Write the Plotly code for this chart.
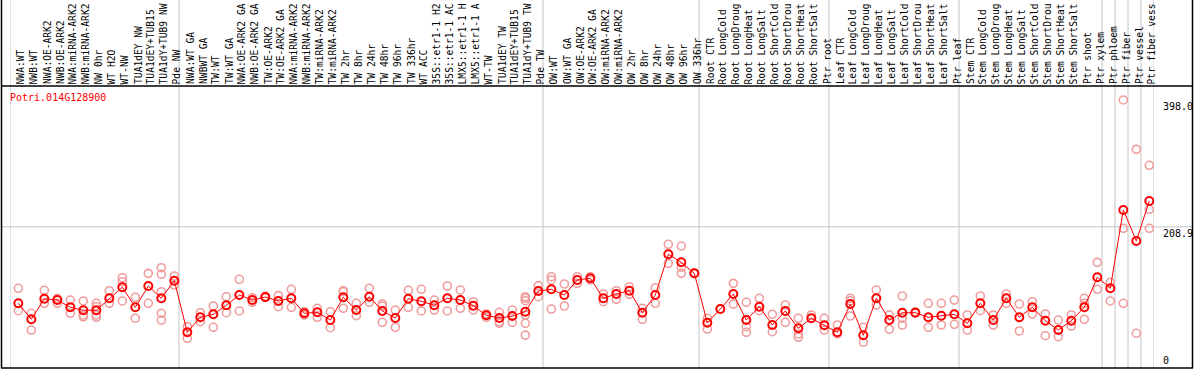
import plotly.graph_objects as go

W, H = 1194, 370

gene = "Potri.014G128900"

labels = [
    "NWA:WT", "NWB:WT", "NWA:OE-ARK2", "NWB:OE-ARK2", "NWA:miRNA-ARK2", "NWB:miRNA-ARK2",
    "NW 0hr", "WT H2O", "WT-NW", "TUA1dEY NW", "TUA1dEY+TUB15", "TUA1dY+TUB9 NW", "Pde NW",
    "NWA:WT GA", "NWBWT GA", "TW:WT", "TW:WT GA", "NWA:OE-ARK2 GA", "NWB:OE-ARK2 GA",
    "TW:OE-ARK2", "TW:OE-ARK2 GA", "NWA:miRNA-ARK2", "NWB:miRNA-ARK2", "TW:miRNA-ARK2",
    "TW:miRNA-ARK2", "TW 2hr", "TW 8hr", "TW 24hr", "TW 48hr", "TW 96hr", "TW 336hr",
    "WT ACC", "35S::etr1-1 H2", "35S::etr1-1 AC", "LMX5::etr1-1 H", "LMX5::etr1-1 A",
    "WT-TW", "TUA1dEY TW", "TUA1dEY+TUB15", "TUA1dY+TUB9 TW", "Pde TW",
    "OW:WT", "OW:WT GA", "OW:OE-ARK2", "OW:OE-ARK2 GA", "OW:miRNA-ARK2", "OW:miRNA-ARK2",
    "OW 2hr", "OW 8hr", "OW 24hr", "OW 48hr", "OW 96hr", "OW 336hr",
    "Root CTR", "Root LongCold", "Root LongDroug", "Root LongHeat", "Root LongSalt",
    "Root ShortCold", "Root ShortDrou", "Root ShortHeat", "Root ShortSalt", "Ptr root",
    "Leaf CTR", "Leaf LongCold", "Leaf LongDroug", "Leaf LongHeat", "Leaf LongSalt",
    "Leaf ShortCold", "Leaf ShortDrou", "Leaf ShortHeat", "Leaf ShortSalt", "Ptr leaf",
    "Stem CTR", "Stem LongCold", "Stem LongDroug", "Stem LongHeat", "Stem LongSalt",
    "Stem ShortCold", "Stem ShortDrou", "Stem ShortHeat", "Stem ShortSalt", "Ptr shoot",
    "Ptr xylem", "Ptr phloem", "Ptr fiber", "Ptr vessel", "Ptr fiber vess",
]

# group boundaries (column indices)
group_bounds = [0, 13, 41, 53, 63, 73, 84, 85, 86, 87, 88]

means = [
    94.9, 71.1, 101.8, 99.8, 89.0, 84.5, 84.5, 102.4, 118.8, 89.0, 120.7, 102.4, 128.6,
    51.7, 74.1, 78.5, 92.0, 107.3, 99.8, 104.3, 98.4, 102.4, 80.0, 81.5, 70.0, 103.9,
    84.9, 104.8, 83.5, 73.0, 101.8, 97.9, 92.0, 102.4, 99.8, 91.4, 77.0, 73.0, 76.0,
    82.4, 113.3,
    115.8, 107.3, 129.7, 132.2, 102.4, 108.8, 113.7, 80.9, 107.3, 168.0, 156.0, 139.6,
    66.0, 86.4, 108.8, 70.0, 89.9, 62.6, 83.5, 57.7, 72.6, 62.1,
    51.7, 93.9, 47.2, 102.4, 70.0, 80.9, 80.9, 74.1, 76.5, 78.5,
    65.1, 94.9, 70.0, 102.4, 74.1, 89.0, 69.0, 55.1, 69.0, 89.0, 133.7,
    117.3, 234.0, 187.8, 247.4,
]

replicates = [
    [117.3, 83.9], [80.0, 55.1], [114.3, 94.9], [102.4, 94.9], [99.8, 80.0],
    [98.4, 77.5, 74.9], [94.9, 89.9, 77.5, 74.1], [113.7, 94.9], [133.1, 127.1, 98.4],
    [103.9, 72.6], [139.6, 94.9], [148.0, 138.2, 112.2, 80.0, 70.0], [135.6, 122.2],
    [60.1, 42.8], [80.9, 67.5], [90.9, 59.2], [104.8, 80.9], [130.7, 83.5], [103.3, 96.4],
    [105.4, 103.3], [106.3, 89.9], [115.8, 89.0], [82.4, 77.5], [87.5, 74.1], [82.4, 58.6],
    [113.7, 112.2, 87.5], [94.9, 76.5], [117.3, 96.4], [93.9, 90.9, 66.6], [84.9, 59.2],
    [114.3, 89.0], [115.8, 83.5], [99.8, 84.9], [120.7, 83.5], [114.8, 87.5], [97.3, 84.9],
    [79.0, 74.1], [81.5, 67.5, 65.1], [84.9, 66.6],
    [104.8, 102.4, 98.8, 77.5, 65.1, 47.5], [121.2, 104.8],
    [134.6, 129.7, 86.4], [123.7, 90.9], [134.6, 124.7], [134.6, 129.7], [108.8, 97.3],
    [113.7, 100.9], [119.7, 108.3], [87.5, 71.1], [118.2, 94.9], [182.9, 154.5],
    [180.3, 148.6, 139.6], [139.6],
    [72.6, 56.6], [86.4], [124.7, 93.9], [96.4, 60.1, 51.7], [102.4, 83.9], [78.5, 52.6],
    [92.4, 66.6], [72.6, 49.2, 44.3], [77.5], [72.6, 55.1],
    [62.6, 49.2], [102.4, 98.8, 76.0], [59.2, 36.8], [114.8, 92.4], [77.5, 56.2],
    [105.8, 72.6, 62.6], [82.4], [94.9, 59.2], [94.9, 62.6], [99.8, 63.6],
    [77.5, 55.1], [105.8, 83.9], [77.5, 62.6], [108.8, 94.9], [93.9, 53.7], [97.3, 79.0],
    [79.0, 46.6], [70.0, 45.2], [77.5, 61.1], [102.4, 94.9, 71.1], [156.0, 115.8],
    [126.2, 98.4], [398.0, 206.7, 94.9], [324.4, 50.2], [300.6, 235.0, 206.7],
]

y_ticks = [0, 208.9, 398.0]
y_tick_text = ["0", "208.9", "398.0"]

# ---- geometry ----
PX_L, PX_R = 10, 1154          # data columns region (pixels)
PY_T, PY_B = 86, 368           # plot region top/bottom (pixels)
Y_MIN, Y_MAX = -1.5, 418.8
OFF = 0.64                     # marker offset within each column

def px(xp):
    return xp / W

def py(yp):
    return 1 - yp / H

FONT = "DejaVu Sans Mono"
n = len(labels)
xs = [i + OFF for i in range(n)]

fig = go.Figure()

rx, ry = [], []
for i, reps in enumerate(replicates):
    for v in reps:
        rx.append(xs[i])
        ry.append(v)

fig.add_trace(go.Scatter(
    x=rx, y=ry, mode="markers",
    marker=dict(symbol="circle-open", size=8, color="#f09c9c", line=dict(width=1.6, color="#f09c9c")),
    hoverinfo="skip", showlegend=False,
))
fig.add_trace(go.Scatter(
    x=xs, y=means, mode="lines+markers",
    line=dict(color="#ff0000", width=1),
    marker=dict(symbol="circle-open", size=8, color="#ff0000", line=dict(width=2, color="#ff0000")),
    showlegend=False,
))

shapes = []
for b in group_bounds:
    shapes.append(dict(type="line", xref="x", yref="paper", x0=b, x1=b, y0=py(PY_B), y1=1,
                       line=dict(color="#c4c4c4", width=1), layer="below"))
shapes.append(dict(type="line", xref="paper", yref="y", x0=px(1), x1=px(1193), y0=208.9, y1=208.9,
                   line=dict(color="#c4c4c4", width=1), layer="below"))
shapes.append(dict(type="line", xref="paper", yref="paper", x0=px(1.5), x1=px(1.5), y0=py(PY_B), y1=1,
                   line=dict(color="black", width=1.5)))
shapes.append(dict(type="line", xref="paper", yref="paper", x0=px(1192.5), x1=px(1192.5), y0=py(PY_B), y1=1,
                   line=dict(color="black", width=1.5)))
shapes.append(dict(type="line", xref="paper", yref="paper", x0=px(1), x1=px(1193), y0=py(PY_T), y1=py(PY_T),
                   line=dict(color="black", width=1.5)))
shapes.append(dict(type="line", xref="paper", yref="paper", x0=px(1), x1=px(1193), y0=py(PY_B), y1=py(PY_B),
                   line=dict(color="black", width=1.5)))

annotations = []
for i, lab in enumerate(labels):
    annotations.append(dict(
        x=xs[i] + 0.2, y=py(85), xref="x", yref="paper", text=lab, textangle=-90,
        showarrow=False, xanchor="center", yanchor="bottom", borderpad=0,
        font=dict(family=FONT, size=9.6, color="black"),
    ))
for v, t in zip(y_ticks, y_tick_text):
    annotations.append(dict(
        x=px(1162), y=v, xref="paper", yref="y", text=t, showarrow=False,
        xanchor="left", yanchor="bottom" if v == 0 else "top", borderpad=0,
        font=dict(family=FONT, size=10, color="black"),
    ))
annotations.append(dict(
    x=px(9), y=py(97), xref="paper", yref="paper", text=gene, showarrow=False,
    xanchor="left", yanchor="middle", borderpad=0,
    font=dict(family=FONT, size=10, color="#ff0000"),
))

fig.update_layout(
    width=W, height=H,
    margin=dict(l=0, r=0, t=0, b=0),
    paper_bgcolor="white", plot_bgcolor="white",
    xaxis=dict(domain=[px(PX_L), px(PX_R)], range=[0, n], showgrid=False, zeroline=False,
               showticklabels=False, ticks=""),
    yaxis=dict(domain=[py(PY_B), py(PY_T)], range=[Y_MIN, Y_MAX], showgrid=False, zeroline=False,
               showticklabels=False, ticks=""),
    shapes=shapes, annotations=annotations,
    showlegend=False,
)

fig.write_html(
    "out.html",
    config={"displayModeBar": False},
    post_script="document.body.style.margin='0px';document.body.style.padding='0px';document.body.style.overflow='hidden';",
)
